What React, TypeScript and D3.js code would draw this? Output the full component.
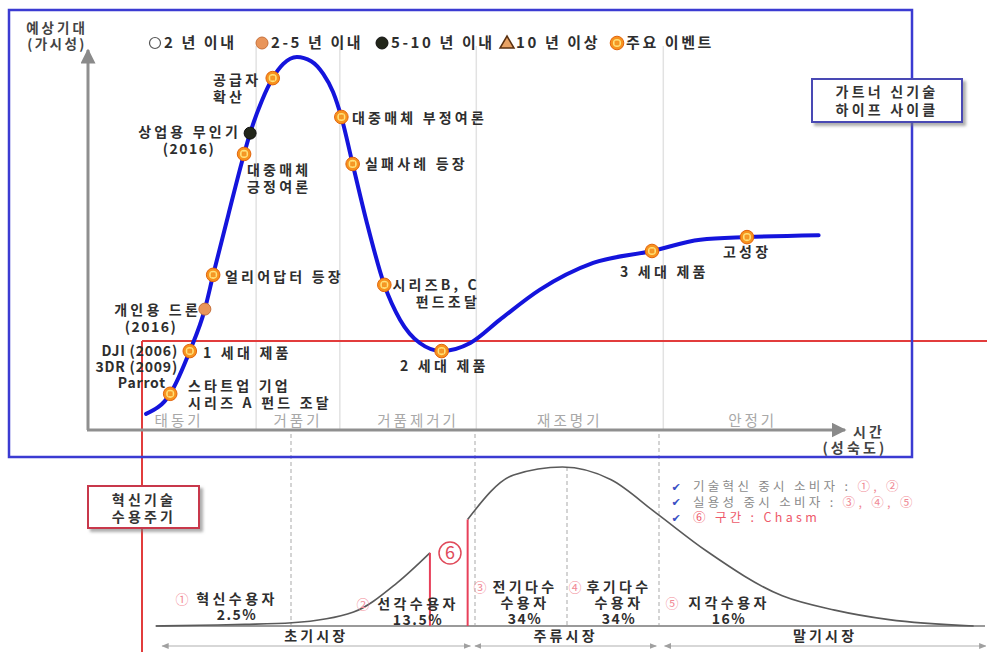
import React from "react";
import * as d3 from "d3";

const W = 987;
const H = 652;
const FONT = "'Noto Sans CJK KR', 'Noto Sans', sans-serif";

// Hype cycle curve: time (maturity, 0-100) vs. expectation (visibility, 0-100)
const hypeT = [7.7, 10.9, 13.5, 15.5, 16.6, 18.6, 20.7, 21.5, 23.1, 24.5, 25.9, 27.7, 29.6, 31.2, 32.5, 33.6, 35.1, 36.9, 39.3, 41.4, 44.0, 46.9, 50.7, 54.6, 59.9, 67.0, 74.8, 81.2, 87.4, 96.9];
const hypeV = [4.2, 9.4, 20.5, 31.4, 40.3, 55.8, 71.7, 77.1, 85.7, 91.4, 95.1, 96.9, 95.8, 92.5, 87.8, 81.3, 69.1, 54.5, 37.7, 28.6, 22.6, 20.5, 22.6, 28.6, 36.4, 43.4, 46.5, 49.4, 50.1, 50.6];

// Events placed on the curve
const eventNames = ["startupA", "gen1", "personalDrone", "earlyAdopter", "mediaPositive", "commercialUAV", "supplier", "mediaNegative", "failures", "seriesBC", "gen2", "gen3", "highGrowth"];
const eventT = [10.9, 13.5, 15.5, 16.6, 20.7, 21.5, 24.5, 33.6, 35.1, 39.3, 46.9, 74.8, 87.4];
const eventV = [9.4, 20.5, 31.4, 40.3, 71.7, 77.1, 91.4, 81.3, 69.1, 37.7, 20.5, 46.5, 50.1];
const eventKind = ["event", "event", "y2to5", "event", "event", "y5to10", "event", "event", "event", "event", "event", "event", "event"];
const eventText = [
  ["스타트업 기업", "시리즈 A 펀드 조달"],
  ["1 세대 제품"],
  ["개인용 드론", "(2016)"],
  ["얼리어답터 등장"],
  ["대중매체", "긍정여론"],
  ["상업용 무인기", "(2016)"],
  ["공급자", "확산"],
  ["대중매체 부정여론"],
  ["실패사례 등장"],
  ["시리즈B, C", "펀드조달"],
  ["2 세대 제품"],
  ["3 세대 제품"],
  ["고성장"],
];
const pioneerNames = ["DJI (2006)", "3DR (2009)", "Parrot"];

// Hype cycle phases and their boundaries (time units)
const phaseNames = ["태동기", "거품기", "거품제거기", "재조명기", "안정기"];
const phaseBounds = [0, 22.3, 33.4, 51.5, 76.3, 100];

const legendNames = ["2 년 이내", "2-5 년 이내", "5-10 년 이내", "10 년 이상", "주요 이벤트"];
const legendKind = ["y2", "y2to5", "y5to10", "y10", "event"];

// Adoption curve (units of standard deviation from the mean, relative height)
const bellLeftS = [-4.47, -3.99, -3.5, -2.99, -2.32, -1.85, -1.49];
const bellLeftH = [0, 0.005, 0.01, 0.02, 0.088, 0.27, 0.46];
const bellRightS = [-1.08, -0.58, -0.05, 0.48, 0.97, 1.52, 2.34, 2.91, 3.5, 4.42];
const bellRightH = [0.67, 0.95, 1.0, 0.92, 0.71, 0.47, 0.19, 0.1, 0.04, 0];
const segmentBounds = [-3, -1, 0, 1];

const adopterNums = ["①", "②", "③", "④", "⑤"];
const adopterNames = [["혁신수용자"], ["선각수용자"], ["전기다수", "수용자"], ["후기다수", "수용자"], ["지각수용자"]];
const adopterShares = ["2.5%", "13.5%", "34%", "34%", "16%"];

const marketNames = ["초기시장", "주류시장", "말기시장"];
const marketBounds = [-4.4, -1.05, -1.0, 0.97, 1.06, 4.55];

const noteLines = [
  { text: "기술혁신 중시 소비자 : ", nums: "①, ②" },
  { text: "실용성 중시 소비자 : ", nums: "③, ④, ⑤" },
  { text: "", nums: "⑥ 구간 : Chasm" },
];

// Label placement for events (px)
const eventLabelLayout: Record<string, { x: number; y: number; anchor: string; align?: string[] }> = {
  startupA: { x: 188, y: 386, anchor: "start" },
  gen1: { x: 203, y: 353, anchor: "start" },
  personalDrone: { x: 201, y: 310, anchor: "end", align: ["end", "mid151"] },
  earlyAdopter: { x: 225, y: 277, anchor: "start" },
  mediaPositive: { x: 247, y: 170, anchor: "start" },
  commercialUAV: { x: 241, y: 132, anchor: "end", align: ["end", "mid189"] },
  supplier: { x: 213, y: 80, anchor: "start" },
  mediaNegative: { x: 352, y: 118, anchor: "start" },
  failures: { x: 365, y: 164, anchor: "start" },
  seriesBC: { x: 480, y: 285, anchor: "end" },
  gen2: { x: 400, y: 366, anchor: "start" },
  gen3: { x: 620, y: 272, anchor: "start" },
  highGrowth: { x: 723, y: 252, anchor: "start" },
};

const x = d3.scaleLinear().domain([0, 100]).range([88, 842]);
const y = d3.scaleLinear().domain([0, 100]).range([430, 45]);
const xb = d3.scaleLinear().domain([-1, 1]).range([475, 659]);
const yb = d3.scaleLinear().domain([0, 1]).range([626, 467]);

const bold = { fontFamily: FONT, fontWeight: 700, fontSize: 14, letterSpacing: 3.2, fill: "#2e2e2e" } as const;
const light = { fontFamily: FONT, fontWeight: 400, fontSize: 14.5, letterSpacing: 3, fill: "#a8a8a8" } as const;

function EventMarker({ cx, cy }: { cx: number; cy: number }) {
  return (
    <g transform={`translate(${cx},${cy})`}>
      <circle r={6.8} fill="#f7921e" stroke="#e2640c" strokeWidth={1} />
      <circle r={3.3} fill="none" stroke="#ffe27a" strokeWidth={1.6} />
      <path d="M-2.2,-2.2L2.2,2.2M2.2,-2.2L-2.2,2.2" stroke="#f39a2a" strokeWidth={1.2} />
    </g>
  );
}

function Marker({ kind, cx, cy }: { kind: string; cx: number; cy: number }) {
  if (kind === "event") return <EventMarker cx={cx} cy={cy} />;
  if (kind === "y2") return <circle cx={cx} cy={cy} r={5.5} fill="#fff" stroke="#555" strokeWidth={1.2} />;
  if (kind === "y2to5") return <circle cx={cx} cy={cy} r={6} fill="#e9955a" stroke="#c7703a" strokeWidth={1} />;
  if (kind === "y5to10") return <circle cx={cx} cy={cy} r={6} fill="#22261a" stroke="#111" strokeWidth={1} />;
  return (
    <path
      d={`M${cx},${cy - 7}L${cx + 7},${cy + 5}L${cx - 7},${cy + 5}Z`}
      fill="#e8a264"
      stroke="#5a3010"
      strokeWidth={1.5}
    />
  );
}

export default function App() {
  const hypePath =
    d3
      .line<number>()
      .x((i) => x(hypeT[i]))
      .y((i) => y(hypeV[i]))
      .curve(d3.curveMonotoneX)(hypeT.map((_, i) => i)) || "";

  const bellLeft =
    d3
      .line<number>()
      .x((i) => xb(bellLeftS[i]))
      .y((i) => yb(bellLeftH[i]))
      .curve(d3.curveMonotoneX)(bellLeftS.map((_, i) => i)) || "";
  const bellRight =
    d3
      .line<number>()
      .x((i) => xb(bellRightS[i]))
      .y((i) => yb(bellRightH[i]))
      .curve(d3.curveMonotoneX)(bellRightS.map((_, i) => i)) || "";

  const leftEnd = bellLeftS.length - 1;

  // adopter label anchor points (px)
  const adopterLayout = [
    { numX: 182, x: 237, y: 599 },
    { numX: 363, x: 418, y: 604 },
    { numX: 480, x: 525, y: 587 },
    { numX: 575, x: 619, y: 587 },
    { numX: 672, x: 729, y: 603 },
  ];

  const legendX = [155, 262, 382, 507, 617];

  return (
    <svg width={W} height={H} style={{ position: "absolute", left: 0, top: 0, background: "#fff" }}>
      <defs>
        <filter id="shadow" x="-10%" y="-10%" width="130%" height="140%">
          <feDropShadow dx={3} dy={3} stdDeviation={1.5} floodColor="#777" floodOpacity={0.6} />
        </filter>
        <marker id="arrowGrey" viewBox="0 0 10 10" refX={9} refY={5} markerWidth={5} markerHeight={5} orient="auto-start-reverse">
          <path d="M0,0L10,5L0,10Z" fill="#8a8a8a" />
        </marker>
        <marker id="arrowSmall" viewBox="0 0 10 10" refX={9} refY={5} markerWidth={6} markerHeight={6} orient="auto-start-reverse">
          <path d="M0,1L10,5L0,9Z" fill="#a0a0a0" />
        </marker>
      </defs>

      {/* phase separators in the hype cycle */}
      {phaseBounds.slice(1, -1).map((b) => (
        <line key={b} x1={x(b)} x2={x(b)} y1={46} y2={429} stroke="#e2e2e2" strokeWidth={1.5} />
      ))}

      {/* dashed segment lines of the adoption curve */}
      {segmentBounds.map((s) => (
        <line
          key={s}
          x1={xb(s)}
          x2={xb(s)}
          y1={s === 0 ? yb(1) : 434}
          y2={626}
          stroke="#bdbdbd"
          strokeWidth={1.3}
          strokeDasharray="4 3"
        />
      ))}

      {/* red frame linking the two diagrams */}
      <line x1={142} x2={W} y1={341} y2={341} stroke="#e23c3c" strokeWidth={2} />
      <line x1={142} x2={142} y1={341} y2={H} stroke="#e23c3c" strokeWidth={2} />

      {/* blue frame of the hype cycle */}
      <rect x={9} y={10} width={903} height={447} fill="none" stroke="#3b3bd2" strokeWidth={2.5} />

      {/* axes */}
      <line x1={88} x2={88} y1={430} y2={50} stroke="#8f8f8f" strokeWidth={3} markerEnd="url(#arrowGrey)" />
      <line x1={87} x2={845} y1={430} y2={430} stroke="#8f8f8f" strokeWidth={3} markerEnd="url(#arrowGrey)" />
      <text x={57} y={28} dy="0.35em" textAnchor="middle" style={{ ...bold, fontSize: 13.5, letterSpacing: 3, fill: "#444" }}>예상기대</text>
      <text x={57} y={44} dy="0.35em" textAnchor="middle" style={{ ...bold, fontSize: 13.5, letterSpacing: 2.4, fill: "#444" }}>(가시성)</text>
      <text x={853} y={432} dy="0.35em" style={{ ...bold, fill: "#444" }}>시간</text>
      <text x={855} y={448} dy="0.35em" textAnchor="middle" style={{ ...bold, fill: "#444" }}>(성숙도)</text>

      {/* phase labels */}
      {phaseNames.map((p, i) => (
        <text
          key={p}
          x={(x(phaseBounds[i]) + x(phaseBounds[i + 1])) / 2 + (i === 2 ? 10 : i === 0 ? 7 : 0)}
          y={421}
          dy="0.35em"
          textAnchor="middle"
          style={light}
        >
          {p}
        </text>
      ))}

      {/* legend */}
      {legendNames.map((n, i) => (
        <g key={n}>
          <Marker kind={legendKind[i]} cx={legendX[i]} cy={43} />
          <text x={legendX[i] + 9} y={43} dy="0.35em" style={{ ...bold, fontSize: 15, letterSpacing: 2.6 }}>
            {n}
          </text>
        </g>
      ))}

      {/* hype cycle curve */}
      <path d={hypePath} fill="none" stroke="#1414dc" strokeWidth={4} strokeLinecap="round" />

      {eventNames.map((name, i) => (
        <Marker key={name} kind={eventKind[i]} cx={x(eventT[i])} cy={y(eventV[i])} />
      ))}

      {eventNames.map((name, i) => {
        const L = eventLabelLayout[name];
        return eventText[i].map((line, j) => {
          const al = L.align ? L.align[j] : L.anchor;
          let lx = L.x;
          let anchor = L.anchor;
          if (al && al.startsWith("mid")) {
            lx = Number(al.slice(3));
            anchor = "middle";
          }
          const latin = /^[(0-9]/.test(line);
          return (
            <text
              key={name + j}
              x={lx}
              y={L.y + j * 17}
              dy="0.35em"
              textAnchor={anchor}
              style={{ ...bold, letterSpacing: latin && line.length < 7 ? 1.5 : 3.2 }}
            >
              {line}
            </text>
          );
        });
      })}

      {pioneerNames.map((p, i) => (
        <text
          key={p}
          x={i === 2 ? 166 : 178}
          y={351 + i * 16}
          dy="0.35em"
          textAnchor="end"
          style={{ ...bold, fontSize: 14, letterSpacing: 0.8 }}
        >
          {p}
        </text>
      ))}

      {/* title box of the hype cycle */}
      <g filter="url(#shadow)">
        <rect x={812} y={79} width={150} height={43} fill="#fff" stroke="#4a4ab4" strokeWidth={2} />
      </g>
      <text x={887} y={92} dy="0.35em" textAnchor="middle" style={{ ...bold, fill: "#333" }}>가트너 신기술</text>
      <text x={887} y={110} dy="0.35em" textAnchor="middle" style={{ ...bold, fill: "#333" }}>하이프 사이클</text>

      {/* title box of the adoption cycle */}
      <g filter="url(#shadow)">
        <rect x={88} y={486} width={111} height={42} fill="#fff" stroke="#c8394b" strokeWidth={2} />
      </g>
      <text x={144} y={500} dy="0.35em" textAnchor="middle" style={{ ...bold, fill: "#333" }}>혁신기술</text>
      <text x={144} y={517} dy="0.35em" textAnchor="middle" style={{ ...bold, fill: "#333" }}>수용주기</text>

      {/* adoption curve */}
      <line x1={xb(bellLeftS[0])} x2={985} y1={yb(0)} y2={yb(0)} stroke="#9a9a9a" strokeWidth={2} />
      <path d={bellLeft} fill="none" stroke="#5a5a5a" strokeWidth={1.6} />
      <path d={bellRight} fill="none" stroke="#5a5a5a" strokeWidth={1.6} />
      <line
        x1={xb(bellLeftS[leftEnd])}
        x2={xb(bellLeftS[leftEnd])}
        y1={yb(bellLeftH[leftEnd])}
        y2={yb(0)}
        stroke="#e8405a"
        strokeWidth={2}
      />
      <line
        x1={xb(bellRightS[0])}
        x2={xb(bellRightS[0])}
        y1={yb(bellRightH[0])}
        y2={yb(0)}
        stroke="#e8405a"
        strokeWidth={2}
      />
      <circle cx={450} cy={553} r={11} fill="#fff" stroke="#e04a5a" strokeWidth={1.5} />
      <text x={450} y={553} dy="0.36em" textAnchor="middle" style={{ fontFamily: FONT, fontSize: 18, fill: "#e04a5a" }}>6</text>

      {/* adopter categories */}
      {adopterNames.map((names, i) => {
        const L = adopterLayout[i];
        return (
          <g key={i}>
            <text x={L.numX} y={L.y} dy="0.35em" textAnchor="middle" style={{ fontFamily: FONT, fontSize: 13, fill: "#f28a96" }}>
              {adopterNums[i]}
            </text>
            {names.map((n, j) => (
              <text key={n + j} x={L.x} y={L.y + j * 16} dy="0.35em" textAnchor="middle" style={{ ...bold, letterSpacing: 3.4 }}>
                {n}
              </text>
            ))}
            <text x={L.x} y={L.y + names.length * 16} dy="0.35em" textAnchor="middle" style={{ ...bold, letterSpacing: 1.5 }}>
              {adopterShares[i]}
            </text>
          </g>
        );
      })}

      {/* market segments */}
      {marketNames.map((m, i) => {
        const a = xb(marketBounds[i * 2]);
        const b = xb(marketBounds[i * 2 + 1]);
        return (
          <g key={m}>
            <line
              x1={a}
              x2={b}
              y1={646}
              y2={646}
              stroke="#b0b0b0"
              strokeWidth={1.2}
              markerStart="url(#arrowSmall)"
              markerEnd="url(#arrowSmall)"
            />
            <text x={(a + b) / 2} y={636} dy="0.35em" textAnchor="middle" style={bold}>
              {m}
            </text>
          </g>
        );
      })}

      {/* notes */}
      {noteLines.map((n, i) => (
        <g key={i}>
          <text x={676} y={487 + i * 15.5} dy="0.35em" textAnchor="middle" style={{ fontFamily: "'DejaVu Sans', sans-serif", fontSize: 11, fill: "#3a4fc4" }}>
            ✔
          </text>
          <text x={693} y={487 + i * 15.5} dy="0.35em" style={{ fontFamily: FONT, fontSize: 12.5, letterSpacing: 3.3, fill: "#8a8a8a" }}>
            {n.text}
            <tspan fill={i === 2 ? "#ee5a6a" : "#f08a96"}>{n.nums}</tspan>
          </text>
        </g>
      ))}
    </svg>
  );
}
